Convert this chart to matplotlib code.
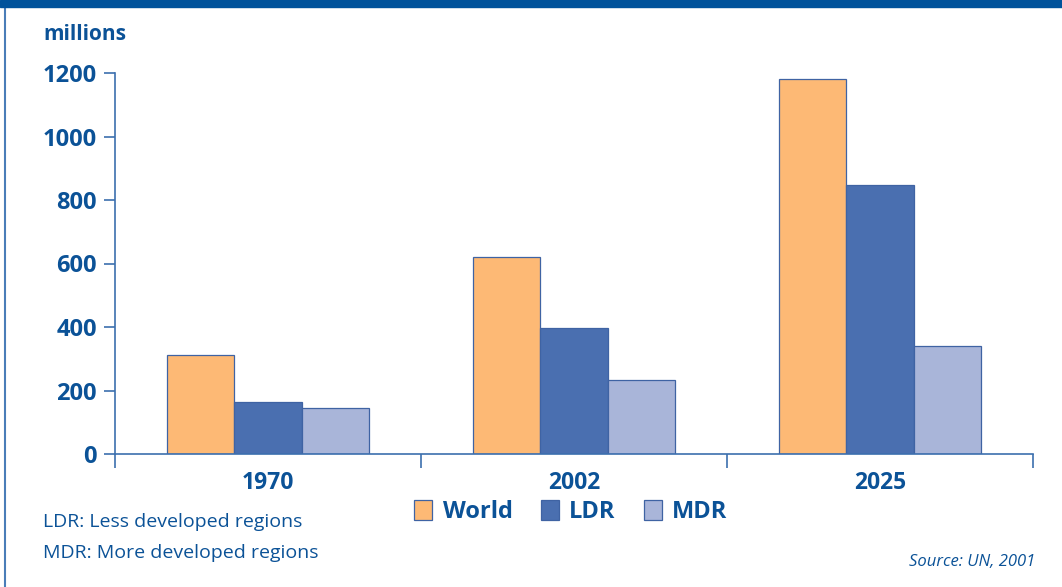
import matplotlib
matplotlib.use("Agg")
import matplotlib.pyplot as plt
import numpy as np
from matplotlib.patches import Rectangle
from matplotlib.lines import Line2D
from matplotlib.ticker import FixedLocator

years = ["1970", "2002", "2025"]
series = ["World", "LDR", "MDR"]
world = [312, 620, 1181]
ldr = [164, 397, 847]
mdr = [145, 233, 340]
colors = ["#FDB975", "#4A6FB0", "#A9B5D9"]
yticks = [0, 200, 400, 600, 800, 1000, 1200]

txt = "#0B5297"
axc = "#3C6FAE"
plt.rcParams['font.family'] = ['Open Sans', 'DejaVu Sans']

fig = plt.figure(figsize=(10.62, 5.87), dpi=100)
ax = fig.add_axes([115/1062, 1-454/587, 918/1062, 381/587])

x = np.arange(len(years))
w = 0.22
for i, (vals, c, name) in enumerate(zip([world, ldr, mdr], colors, series)):
    ax.bar(x + (i-1)*w, vals, width=w, color=c, edgecolor="#3F63A3", linewidth=0.9, label=name, zorder=2)

ax.set_xlim(-0.5, 2.5)
ax.set_ylim(0, 1200)
for s in ["top", "right"]:
    ax.spines[s].set_visible(False)
for s in ["left", "bottom"]:
    ax.spines[s].set_color(axc)
    ax.spines[s].set_linewidth(1.2)

ax.xaxis.set_major_locator(FixedLocator([-0.5, 0.5, 1.5, 2.5]))
ax.xaxis.set_minor_locator(FixedLocator(list(x)))
ax.set_xticklabels([], minor=False)
ax.set_xticklabels(years, minor=True)
ax.tick_params(axis="x", which="major", length=10, width=1.2, color=axc, direction="out")
ax.tick_params(axis="x", which="minor", length=0, pad=12, labelsize=16.5, labelcolor=txt)
for t in ax.get_xticklabels(minor=True):
    t.set_fontweight("bold")

ax.set_yticks(yticks)
ax.tick_params(axis="y", which="major", length=8, width=1.2, color=axc, direction="out", labelsize=17, labelcolor=txt, pad=5)
for t in ax.get_yticklabels():
    t.set_fontweight("bold")

leg = fig.legend(loc="center", bbox_to_anchor=(571/1062, 1-512/587), ncol=3, frameon=False,
                 prop={"size": 17, "weight": "bold"}, handlelength=0.75, handleheight=0.9,
                 handletextpad=0.45, columnspacing=1.2)
for t in leg.get_texts():
    t.set_color(txt)

fig.text(43/1062, 1-35/587, "millions", color=txt, fontsize=15, fontweight="bold", va="center", ha="left")
fig.text(43/1062, 1-522/587, "LDR: Less developed regions", color=txt, fontsize=14, va="center", ha="left")
fig.text(43/1062, 1-553/587, "MDR: More developed regions", color=txt, fontsize=14, va="center", ha="left")
fig.text(1035/1062, 1-562/587, "Source: UN, 2001", color=txt, fontsize=12, style="italic", va="center", ha="right")

fig.patches.append(Rectangle((0, 1-7/587), 1, 7/587, transform=fig.transFigure, color="#00529B", zorder=5))
fig.lines.append(Line2D([5/1062, 5/1062], [0, 1-7/587], transform=fig.transFigure, color="#4A7DB8", linewidth=1.5))

fig.savefig("out.png", dpi=100)
